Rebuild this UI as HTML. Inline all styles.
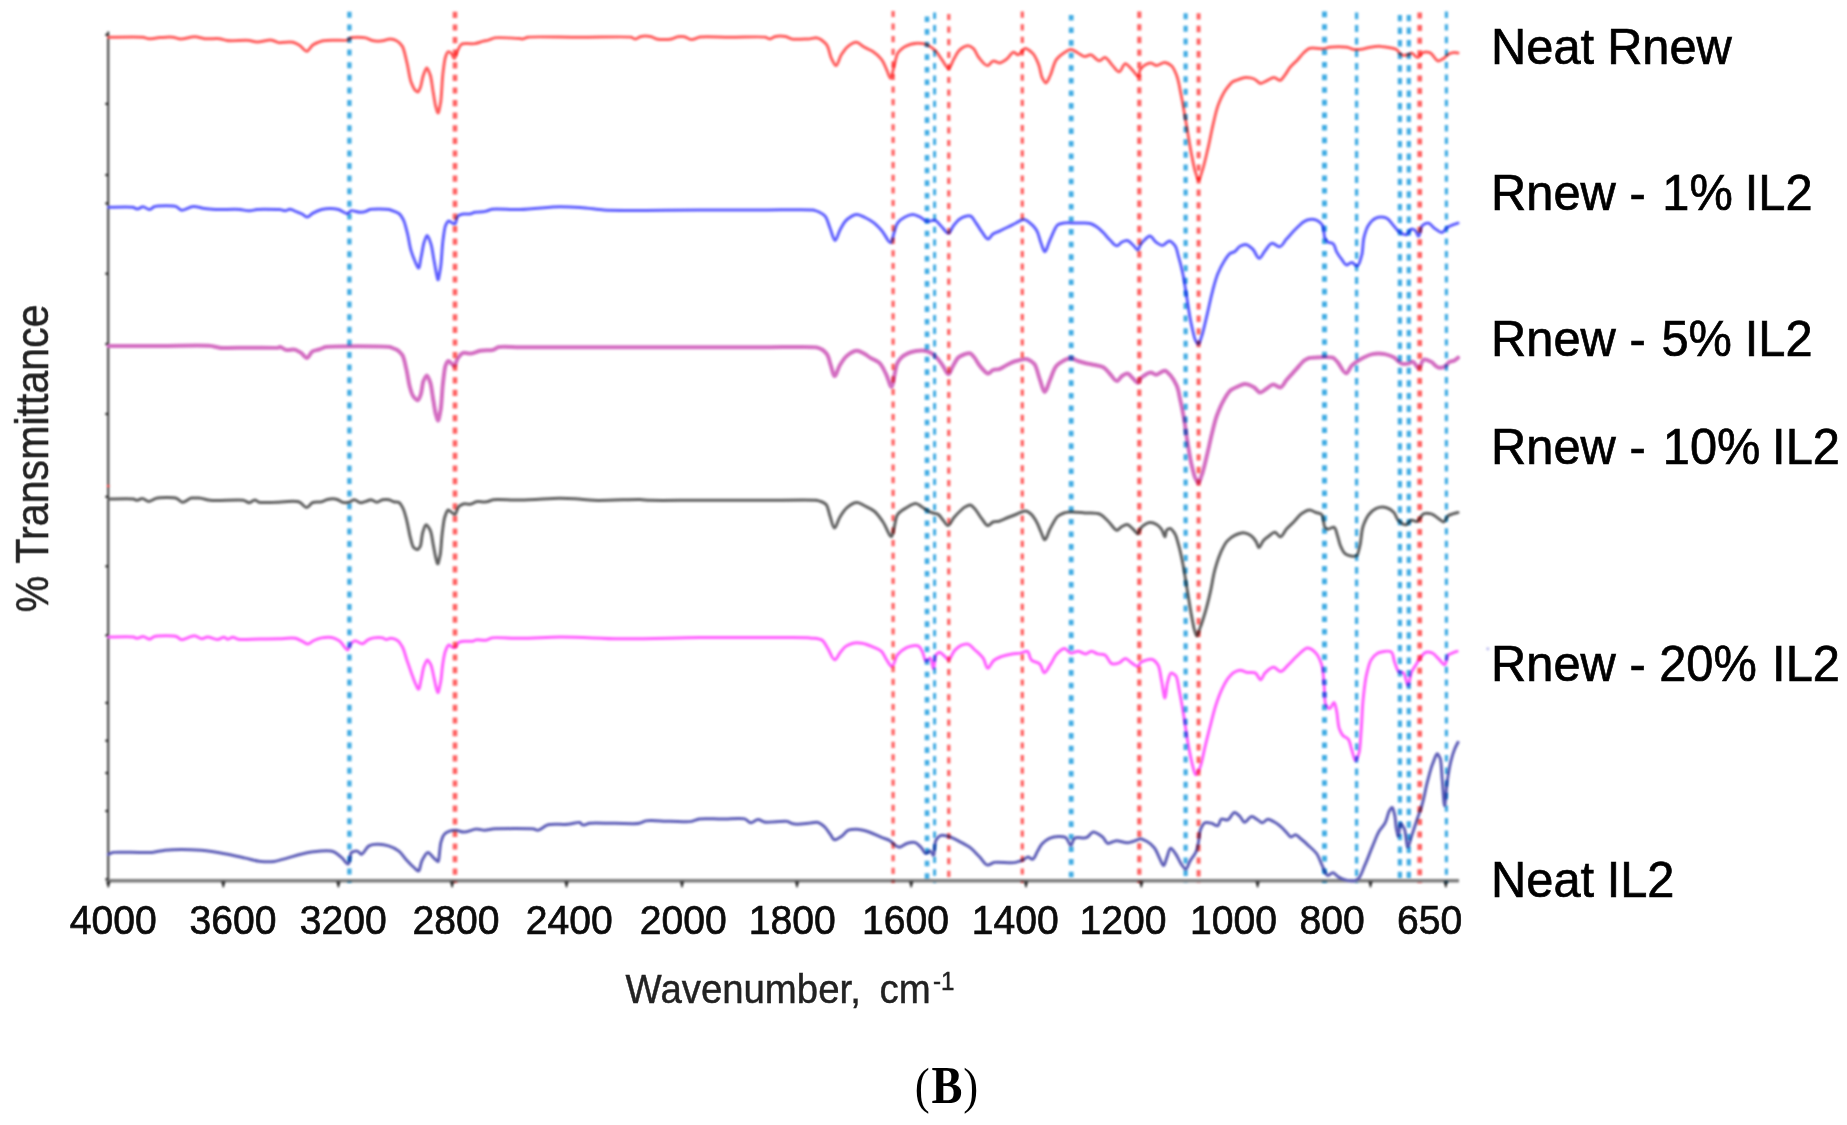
<!DOCTYPE html>
<html lang="en">
<head>
<meta charset="utf-8">
<title>FTIR spectra (B)</title>
<style>
html,body{margin:0;padding:0;background:#fff;}
body{width:1847px;height:1125px;overflow:hidden;position:relative;}
svg{position:absolute;left:0;top:0;display:block;}
text{font-family:"Liberation Sans",Arial,Helvetica,sans-serif;}
.tick{fill:#0c0c0c;stroke:#0c0c0c;stroke-width:0.7;}
.leg{fill:#000;stroke:#000;stroke-width:0.7;}
.axl{fill:#222;stroke:#222;stroke-width:0.45;}
.cap2{font-family:"Liberation Serif","Times New Roman",serif;fill:#000;}
.curve{fill:none;stroke-width:3.0;stroke-linejoin:round;stroke-linecap:round;}
.vl{fill:none;}

</style>
</head>
<body>
<svg width="1847" height="1125" viewBox="0 0 1847 1125">
<defs>
<filter id="soft" x="-2%" y="-2%" width="104%" height="104%" color-interpolation-filters="sRGB"><feGaussianBlur stdDeviation="1.25"/></filter>
<filter id="softv" x="-2%" y="-2%" width="104%" height="104%" color-interpolation-filters="sRGB"><feGaussianBlur stdDeviation="1.0"/></filter>
<filter id="soft3" x="-2%" y="-2%" width="104%" height="104%" color-interpolation-filters="sRGB"><feGaussianBlur stdDeviation="0.6"/></filter>
<filter id="soft2" x="-2%" y="-10%" width="104%" height="120%" color-interpolation-filters="sRGB"><feGaussianBlur stdDeviation="0.7"/></filter>
</defs>
<rect x="0" y="0" width="1847" height="1125" fill="#ffffff"/>
<g filter="url(#soft)">

<g class="axes" stroke="#3a3a3a" fill="none">
<line x1="108.2" y1="31.5" x2="108.2" y2="882" stroke-width="2.2" stroke="#444"/>
<line x1="107.1" y1="880.7" x2="1459" y2="880.7" stroke-width="3.6" stroke="#7c7c7c"/>
<path d="M106.1 881.4 L110.5 881.4 L108.8 887.6 L107.8 887.6 Z" fill="#2a2a2a" stroke="none"/>
<path d="M221.1 881.4 L225.5 881.4 L223.8 887.6 L222.8 887.6 Z" fill="#2a2a2a" stroke="none"/>
<path d="M336.2 881.4 L340.6 881.4 L338.9 887.6 L337.9 887.6 Z" fill="#2a2a2a" stroke="none"/>
<path d="M449.9 881.4 L454.3 881.4 L452.6 887.6 L451.6 887.6 Z" fill="#2a2a2a" stroke="none"/>
<path d="M564.3 881.4 L568.7 881.4 L567.0 887.6 L566.0 887.6 Z" fill="#2a2a2a" stroke="none"/>
<path d="M679.8 881.4 L684.2 881.4 L682.5 887.6 L681.5 887.6 Z" fill="#2a2a2a" stroke="none"/>
<path d="M794.8 881.4 L799.2 881.4 L797.5 887.6 L796.5 887.6 Z" fill="#2a2a2a" stroke="none"/>
<path d="M909.0 881.4 L913.4 881.4 L911.7 887.6 L910.7 887.6 Z" fill="#2a2a2a" stroke="none"/>
<path d="M1023.8 881.4 L1028.2 881.4 L1026.5 887.6 L1025.5 887.6 Z" fill="#2a2a2a" stroke="none"/>
<path d="M1139.1 881.4 L1143.5 881.4 L1141.8 887.6 L1140.8 887.6 Z" fill="#2a2a2a" stroke="none"/>
<path d="M1255.4 881.4 L1259.8 881.4 L1258.1 887.6 L1257.1 887.6 Z" fill="#2a2a2a" stroke="none"/>
<path d="M1368.3 881.4 L1372.7 881.4 L1371.0 887.6 L1370.0 887.6 Z" fill="#2a2a2a" stroke="none"/>
<path d="M1443.6 881.4 L1448.0 881.4 L1446.3 887.6 L1445.3 887.6 Z" fill="#2a2a2a" stroke="none"/>
<line x1="105.4" y1="34.8" x2="108" y2="34.8" stroke-width="2.2" stroke="#222"/>
<line x1="105.4" y1="103.9" x2="108" y2="103.9" stroke-width="2.2" stroke="#222"/>
<line x1="105.4" y1="175" x2="108" y2="175" stroke-width="2.2" stroke="#222"/>
<line x1="105.4" y1="203.4" x2="108" y2="203.4" stroke-width="2.2" stroke="#222"/>
<line x1="105.4" y1="273.7" x2="108" y2="273.7" stroke-width="2.2" stroke="#222"/>
<line x1="105.4" y1="344" x2="108" y2="344" stroke-width="2.2" stroke="#222"/>
<line x1="105.4" y1="414" x2="108" y2="414" stroke-width="2.2" stroke="#222"/>
<line x1="105.4" y1="496.8" x2="108" y2="496.8" stroke-width="2.2" stroke="#222"/>
<line x1="105.4" y1="566.3" x2="108" y2="566.3" stroke-width="2.2" stroke="#222"/>
<line x1="105.4" y1="635.4" x2="108" y2="635.4" stroke-width="2.2" stroke="#222"/>
<line x1="105.4" y1="702.9" x2="108" y2="702.9" stroke-width="2.2" stroke="#222"/>
<line x1="105.4" y1="740.7" x2="108" y2="740.7" stroke-width="2.2" stroke="#222"/>
<line x1="105.4" y1="773" x2="108" y2="773" stroke-width="2.2" stroke="#222"/>
<line x1="105.4" y1="811" x2="108" y2="811" stroke-width="2.2" stroke="#222"/>
<line x1="105.4" y1="879.3" x2="108" y2="879.3" stroke-width="2.2" stroke="#222"/>
</g>
<circle cx="108.2" cy="486" r="1.3" fill="#ff3030" stroke="none"/>
<circle cx="1487.8" cy="648.8" r="1.5" fill="#b8b8ee" stroke="none"/>
<g class="curves">
<path class="curve" stroke="#ff5c5c" d="M108.4 37.2 C108.4 37.2 140.2 36.6 143.0 37.2 C144.8 37.6 146.6 38.4 148.5 38.7 C151.3 39.1 156.2 37.8 160.0 37.6 C164.3 37.3 169.0 36.7 172.8 37.2 C175.3 37.5 177.8 38.7 180.3 39.0 C184.1 39.4 190.5 36.5 195.2 36.8 C198.3 37.0 201.4 38.3 204.6 38.7 C209.3 39.3 215.7 38.1 219.5 38.7 C222.0 39.1 224.5 40.1 227.0 40.5 C230.8 41.2 245.6 39.9 249.4 40.5 C251.9 40.9 254.4 41.8 256.9 42.0 C260.7 42.3 268.4 39.5 271.8 40.2 C274.1 40.7 277.8 42.5 278.5 42.6 C279.0 42.7 279.5 42.7 280.0 42.7 C280.8 42.7 289.6 41.4 293.0 42.3 C295.2 42.9 297.5 44.1 299.5 45.3 C302.2 46.9 304.7 51.6 307.0 51.2 C309.0 50.9 310.4 46.9 312.5 45.3 C315.4 43.1 319.3 41.9 322.9 40.8 C328.2 39.2 346.0 41.1 347.6 40.1 C348.7 39.5 349.7 38.5 350.8 37.9 C352.5 37.0 362.5 37.0 365.8 37.9 C368.0 38.5 370.1 40.0 372.3 40.5 C375.6 41.3 381.7 41.0 384.0 40.5 C385.5 40.2 387.0 39.4 388.5 39.2 C390.8 38.9 394.6 39.6 397.0 41.0 C399.0 42.1 400.7 44.1 402.1 46.0 C404.2 48.8 405.3 56.4 406.7 61.6 C408.5 68.5 409.5 78.4 411.2 82.4 C412.3 85.1 414.0 89.1 415.1 90.2 C415.9 90.9 417.0 92.1 417.7 92.1 C418.8 92.2 419.6 89.2 420.3 87.6 C421.4 85.3 422.2 77.9 423.6 74.6 C424.5 72.4 425.7 68.1 426.8 68.1 C427.9 68.1 429.2 72.4 430.1 74.6 C431.5 77.9 432.2 86.7 433.3 92.8 C434.2 97.6 435.0 104.2 435.9 107.1 C436.5 109.1 437.3 112.4 437.9 112.9 C438.8 113.6 439.8 106.5 440.5 103.2 C441.6 98.3 442.0 79.8 443.1 72.0 C443.8 66.8 444.6 58.8 445.7 56.4 C446.4 54.8 447.0 51.9 448.3 51.8 C449.2 51.7 450.6 52.7 451.5 53.5 C452.8 54.6 453.3 58.0 454.1 58.3 C455.3 58.7 456.2 53.5 457.4 51.2 C458.7 48.7 459.8 45.0 461.9 44.0 C463.3 43.4 465.4 43.7 467.1 43.6 C469.7 43.5 472.3 43.9 474.9 43.6 C477.6 43.2 480.1 42.1 482.7 41.4 C484.9 40.8 487.1 40.5 489.2 39.8 C491.0 39.3 492.6 38.4 494.4 37.9 C497.0 37.1 518.8 38.4 520.0 38.6 C520.8 38.7 521.5 39.0 522.3 39.0 C523.4 39.0 526.0 37.7 527.9 37.2 C530.7 36.4 562.6 37.2 580.0 37.2 C597.0 37.2 628.7 36.4 631.0 37.2 C632.5 37.7 634.1 39.0 635.6 39.0 C637.2 39.0 638.6 37.3 640.2 36.8 C642.6 36.0 648.4 36.1 651.2 36.8 C653.1 37.3 654.8 38.5 656.7 39.0 C659.5 39.8 668.2 39.8 671.5 39.0 C673.7 38.5 675.7 37.2 677.9 36.8 C680.0 36.5 682.2 36.5 684.3 36.8 C686.9 37.2 689.2 39.5 691.7 39.6 C694.1 39.7 696.6 37.8 699.1 37.2 C702.8 36.2 719.7 37.2 730.0 37.2 C741.8 37.2 762.9 36.4 765.3 37.2 C766.9 37.7 768.5 39.1 770.0 39.0 C771.6 38.9 773.0 37.3 774.6 36.8 C777.0 36.0 782.3 35.8 785.6 36.5 C787.8 37.0 789.8 38.4 792.0 39.0 C795.3 39.8 804.0 39.1 806.0 39.0 C807.3 38.9 808.7 38.9 810.0 38.8 C812.0 38.6 814.9 37.5 817.1 37.9 C820.4 38.4 823.8 41.5 826.1 44.1 C829.3 47.8 829.4 54.7 831.4 58.4 C832.7 60.9 834.5 65.2 835.9 65.6 C837.9 66.1 839.1 58.2 841.3 54.8 C843.1 52.0 845.0 48.9 847.5 46.8 C850.0 44.7 853.6 42.0 856.5 42.3 C858.9 42.5 861.2 45.4 863.6 46.8 C866.5 48.5 869.8 49.5 872.5 51.3 C875.8 53.5 879.1 56.2 881.5 59.3 C883.9 62.4 885.1 66.4 886.8 70.0 C888.0 72.7 889.3 77.7 890.4 78.1 C891.9 78.6 892.8 70.4 894.0 66.5 C895.5 61.7 895.9 55.4 898.4 52.2 C900.0 50.1 902.4 48.2 904.7 46.8 C908.2 44.7 913.3 43.3 917.2 43.2 C919.8 43.1 922.7 43.3 925.2 44.1 C928.8 45.2 932.3 47.8 935.1 50.4 C938.0 53.1 939.8 57.0 942.2 60.2 C944.3 62.9 946.6 68.3 948.5 68.2 C950.5 68.1 952.0 62.2 953.8 59.3 C955.8 56.0 957.2 51.8 960.1 49.5 C962.5 47.6 966.7 45.4 969.0 45.9 C970.5 46.3 972.2 47.5 973.5 48.6 C975.4 50.3 976.7 54.8 978.8 57.5 C981.3 60.6 985.2 66.2 987.8 65.6 C989.6 65.2 991.1 61.5 993.1 61.1 C995.0 60.7 997.4 63.0 999.4 62.9 C1001.9 62.8 1004.3 60.8 1006.5 59.3 C1009.2 57.4 1011.6 51.9 1013.7 52.2 C1015.1 52.4 1016.7 54.6 1018.1 54.8 C1020.2 55.1 1022.7 48.7 1025.3 48.6 C1027.5 48.5 1030.4 51.2 1032.4 53.0 C1035.3 55.8 1037.1 60.6 1038.7 64.7 C1040.4 69.0 1040.8 75.6 1042.3 78.1 C1043.3 79.8 1044.7 82.6 1045.8 82.9 C1047.4 83.3 1048.9 78.0 1050.3 75.4 C1052.3 71.5 1053.7 62.9 1056.6 59.3 C1058.5 56.9 1061.1 54.7 1063.7 53.0 C1065.9 51.6 1068.5 49.5 1070.9 49.5 C1073.3 49.5 1075.6 51.8 1078.0 53.0 C1080.4 54.2 1082.6 56.6 1085.1 56.6 C1086.9 56.6 1088.8 54.8 1090.5 54.8 C1093.1 54.8 1096.7 61.1 1099.4 60.7 C1101.2 60.5 1103.1 57.6 1104.8 57.5 C1107.3 57.4 1109.5 62.3 1111.9 64.7 C1114.3 67.1 1116.9 71.9 1119.1 71.8 C1121.4 71.7 1123.0 63.8 1125.4 63.8 C1127.3 63.8 1129.6 67.3 1131.6 69.1 C1134.1 71.4 1137.4 77.3 1138.7 76.3 C1139.6 75.6 1139.1 71.8 1140.0 70.0 C1141.1 67.9 1143.3 65.9 1145.4 64.7 C1147.0 63.8 1149.0 62.8 1150.7 62.9 C1152.6 63.0 1154.3 65.3 1156.1 65.6 C1158.9 66.0 1162.1 62.1 1165.0 62.5 C1167.1 62.8 1169.6 64.2 1171.3 65.6 C1173.9 67.7 1175.2 72.0 1176.6 75.4 C1178.7 80.5 1179.7 88.4 1181.1 95.0 C1182.8 103.3 1184.1 111.7 1185.6 120.0 C1187.7 131.9 1190.1 147.7 1191.8 155.8 C1192.9 161.2 1194.0 167.8 1195.4 171.9 C1196.3 174.6 1197.5 179.6 1198.6 179.9 C1199.9 180.2 1201.3 173.3 1202.5 170.0 C1204.2 165.0 1206.2 155.8 1207.9 148.6 C1209.9 140.3 1211.3 131.9 1213.3 123.6 C1214.9 117.0 1216.1 110.3 1218.6 104.0 C1220.6 99.1 1222.7 94.0 1225.8 89.7 C1227.9 86.8 1230.9 82.7 1232.9 81.6 C1234.3 80.8 1235.9 80.4 1237.4 79.9 C1239.7 79.1 1242.7 77.7 1245.4 77.5 C1248.3 77.3 1251.6 77.8 1254.3 79.0 C1256.6 80.0 1258.4 83.2 1260.6 83.4 C1262.6 83.5 1264.8 81.6 1266.9 80.7 C1269.3 79.7 1271.6 77.4 1274.0 77.5 C1276.1 77.6 1278.5 80.8 1280.3 80.4 C1282.0 80.0 1283.3 77.1 1284.7 75.4 C1286.7 72.9 1288.1 69.8 1290.1 67.3 C1292.2 64.7 1294.9 62.6 1297.2 60.2 C1299.4 57.9 1301.2 55.2 1303.5 53.0 C1305.2 51.4 1306.9 49.6 1308.8 48.6 C1311.7 47.1 1321.3 49.1 1324.0 48.6 C1325.8 48.3 1327.6 47.6 1329.4 47.2 C1332.1 46.7 1343.7 46.4 1347.3 47.2 C1349.7 47.7 1352.0 49.2 1354.4 49.5 C1357.3 49.9 1360.4 49.4 1363.3 48.9 C1365.7 48.5 1368.1 47.6 1370.5 47.2 C1374.0 46.6 1377.6 46.2 1381.2 46.4 C1384.2 46.5 1387.2 47.0 1390.1 47.7 C1392.2 48.2 1394.6 48.5 1396.4 49.5 C1398.5 50.7 1399.5 54.0 1401.7 54.8 C1403.5 55.5 1406.1 55.3 1408.0 54.8 C1409.3 54.4 1410.4 53.1 1411.6 53.0 C1413.3 52.8 1415.9 57.8 1417.8 57.5 C1419.4 57.2 1420.5 53.9 1422.3 53.0 C1424.3 52.0 1427.3 52.0 1429.4 52.5 C1432.6 53.2 1435.9 61.2 1438.4 61.0 C1440.1 60.8 1442.0 59.4 1443.7 58.4 C1445.7 57.2 1447.0 54.9 1449.1 53.9 C1450.7 53.1 1452.8 52.5 1454.5 52.5 C1455.7 52.5 1458.0 53.0 1458.0 53.0"/>
<path class="curve" stroke="#5c5cff" d="M108.4 207.3 C108.4 207.3 130.8 206.6 133.0 207.3 C134.5 207.8 135.9 208.9 137.3 209.0 C139.2 209.1 141.1 206.7 143.0 206.7 C145.2 206.7 147.4 209.8 149.5 209.5 C151.1 209.3 152.6 207.5 154.2 206.7 C156.6 205.6 174.2 205.3 176.6 206.7 C178.2 207.6 179.6 209.5 181.2 210.1 C183.6 211.0 189.3 206.6 193.4 206.4 C197.1 206.3 200.8 208.1 204.6 208.6 C208.3 209.1 212.1 209.3 215.8 209.5 C221.4 209.8 235.3 209.0 240.0 209.5 C243.1 209.8 246.3 210.9 249.4 210.8 C251.9 210.7 254.4 209.8 256.9 209.5 C260.7 209.0 277.8 209.5 278.5 209.5 C279.0 209.5 279.5 209.5 280.0 209.5 C280.7 209.5 283.5 210.9 285.2 210.8 C286.7 210.7 288.2 209.3 289.7 209.2 C291.7 209.1 293.6 210.6 295.6 211.4 C297.8 212.2 300.0 212.9 302.1 214.0 C303.8 214.9 305.4 217.0 307.0 217.0 C308.9 217.1 310.6 214.5 312.5 213.4 C315.4 211.8 318.5 210.3 321.6 209.5 C326.3 208.3 333.8 208.2 338.5 209.5 C341.6 210.4 345.9 214.3 347.6 213.6 C348.7 213.1 349.6 211.4 350.8 210.8 C352.6 209.9 358.0 212.5 360.6 212.3 C362.3 212.2 364.2 212.0 365.8 211.4 C367.2 210.9 368.4 210.0 369.7 209.5 C371.7 208.7 386.5 208.8 389.1 209.5 C390.9 210.0 392.6 210.7 394.3 211.4 C396.1 212.2 398.1 212.8 399.5 214.0 C401.2 215.5 402.3 217.8 403.4 219.9 C405.0 223.0 406.1 228.5 407.3 232.9 C408.9 238.9 409.5 245.8 411.2 251.1 C412.3 254.6 413.6 258.2 415.1 261.5 C416.1 263.7 417.5 267.7 418.4 268.0 C419.7 268.5 420.2 261.1 421.0 257.6 C422.2 252.4 423.0 245.3 424.2 242.0 C425.0 239.8 426.1 235.7 427.1 235.5 C428.3 235.2 429.7 240.6 430.7 243.3 C432.2 247.3 432.9 254.6 434.0 260.2 C434.9 265.0 436.0 271.9 436.6 274.5 C437.0 276.2 437.5 279.0 437.9 279.7 C438.5 280.7 439.8 271.9 440.5 268.0 C441.6 262.1 442.0 246.6 443.1 239.4 C443.8 234.6 444.5 227.3 445.7 225.1 C446.5 223.6 447.5 220.9 448.7 220.9 C449.5 220.9 450.5 222.0 451.5 222.5 C452.6 223.1 453.9 224.0 454.8 224.0 C456.2 224.0 456.0 217.6 458.0 216.0 C459.3 214.9 461.4 214.4 463.2 214.0 C465.3 213.6 467.6 214.4 469.7 214.0 C471.5 213.7 473.1 212.7 474.9 212.3 C477.5 211.7 482.0 212.2 485.3 211.4 C487.5 210.9 489.6 209.8 491.8 209.2 C495.1 208.3 510.6 209.7 520.0 209.5 C533.4 209.2 550.0 206.7 560.0 206.7 C566.7 206.7 573.3 207.0 580.0 207.5 C588.0 208.1 596.0 209.3 604.0 210.0 C616.0 211.0 670.0 210.0 700.0 210.0 C720.0 210.0 740.0 210.0 760.0 210.0 C777.8 210.0 810.4 209.1 813.3 210.0 C815.2 210.6 817.2 211.1 819.0 212.0 C821.1 213.0 823.4 214.4 825.0 216.0 C827.4 218.5 828.3 224.0 830.0 228.0 C831.7 232.1 833.4 240.7 835.2 240.4 C836.7 240.1 838.2 233.3 840.0 230.0 C842.0 226.3 843.9 222.1 847.0 219.5 C849.8 217.1 853.7 214.3 857.2 214.4 C859.8 214.5 862.5 216.3 865.0 217.5 C868.1 219.0 871.3 220.8 874.0 222.9 C877.0 225.2 879.5 228.2 882.0 231.0 C885.2 234.6 888.9 243.7 891.0 242.5 C892.4 241.7 892.9 236.1 894.0 233.0 C895.2 229.6 895.6 225.7 897.7 222.9 C899.5 220.5 902.3 218.4 905.0 217.0 C907.4 215.7 910.4 214.3 913.0 214.4 C915.3 214.5 917.8 215.9 920.0 217.0 C922.3 218.1 924.7 221.0 926.4 221.2 C927.5 221.4 928.8 221.1 930.0 221.0 C931.6 220.8 933.4 220.0 934.8 220.2 C937.0 220.6 938.9 224.1 941.0 226.0 C943.5 228.3 946.2 233.3 948.4 233.0 C950.5 232.7 951.9 227.5 954.0 225.0 C955.9 222.8 958.0 220.2 960.2 218.8 C961.7 217.8 963.3 217.0 965.0 216.5 C966.7 216.0 968.8 215.6 970.3 216.0 C972.6 216.6 974.2 220.6 976.0 223.0 C978.2 225.9 979.8 229.2 982.0 232.0 C983.9 234.5 986.1 239.3 988.2 239.0 C989.8 238.8 991.1 235.3 993.0 234.0 C994.8 232.8 997.0 232.2 999.0 231.3 C1002.0 229.9 1005.0 228.5 1008.0 227.0 C1010.7 225.7 1013.3 224.2 1016.0 223.0 C1018.7 221.7 1021.7 219.1 1024.3 219.5 C1026.3 219.8 1028.3 221.6 1030.0 223.0 C1032.4 224.8 1034.5 227.2 1036.2 229.6 C1038.7 233.3 1039.3 238.7 1041.0 243.0 C1042.1 245.9 1043.4 251.1 1044.6 251.6 C1046.3 252.2 1048.1 243.8 1050.0 240.0 C1052.5 234.8 1055.4 225.9 1058.0 224.6 C1059.7 223.7 1062.0 223.3 1064.0 223.0 C1066.3 222.7 1068.7 222.9 1071.0 222.9 C1074.0 222.9 1077.0 222.9 1080.0 223.0 C1083.4 223.1 1087.0 222.5 1090.2 223.5 C1092.6 224.2 1094.9 225.6 1097.0 227.0 C1099.5 228.7 1101.6 230.9 1103.7 233.0 C1105.9 235.2 1107.7 237.9 1110.0 240.0 C1112.2 242.1 1114.8 246.2 1117.2 245.8 C1118.8 245.5 1120.2 242.9 1122.0 242.0 C1123.6 241.2 1125.7 240.2 1127.3 240.4 C1129.4 240.7 1131.2 243.4 1133.0 245.0 C1134.8 246.6 1136.9 250.5 1138.1 249.9 C1139.0 249.5 1139.2 246.8 1140.0 245.4 C1141.2 243.4 1142.8 241.6 1144.5 240.0 C1146.1 238.5 1148.1 236.2 1149.8 236.1 C1152.0 236.0 1153.7 240.6 1156.1 242.2 C1158.0 243.5 1160.3 245.4 1162.3 245.4 C1164.8 245.4 1167.2 240.6 1169.5 240.9 C1171.4 241.2 1173.4 243.6 1174.8 245.4 C1176.9 248.0 1177.3 252.5 1178.4 256.1 C1180.0 261.5 1181.6 268.0 1182.9 274.0 C1184.4 281.1 1185.3 288.3 1186.5 295.4 C1188.0 304.3 1189.0 313.4 1190.9 322.2 C1192.2 328.2 1194.2 338.1 1195.4 340.1 C1196.2 341.4 1197.3 343.7 1198.1 344.0 C1199.3 344.5 1200.6 339.0 1201.6 336.5 C1203.1 332.7 1205.3 322.2 1207.0 315.1 C1208.9 307.4 1210.3 299.5 1212.4 291.8 C1214.0 285.8 1215.4 279.7 1217.7 274.0 C1219.5 269.7 1221.5 265.4 1224.0 261.5 C1225.8 258.7 1228.2 254.6 1230.2 253.4 C1231.5 252.6 1233.3 252.4 1234.7 251.6 C1236.7 250.4 1237.9 247.5 1240.0 246.3 C1241.6 245.4 1243.7 244.5 1245.4 244.5 C1248.0 244.6 1250.5 247.2 1252.6 249.0 C1255.4 251.5 1257.0 258.5 1259.3 258.3 C1261.2 258.1 1263.0 253.1 1265.1 250.7 C1267.3 248.1 1269.4 243.4 1272.2 243.2 C1274.4 243.0 1277.3 247.0 1279.4 246.8 C1282.2 246.6 1284.1 241.7 1286.5 239.1 C1289.5 235.8 1292.3 232.4 1295.4 229.3 C1298.3 226.5 1301.9 222.5 1304.4 221.3 C1306.0 220.5 1307.9 219.7 1309.7 219.5 C1312.0 219.2 1314.8 219.5 1316.9 220.4 C1318.9 221.3 1320.9 223.1 1322.2 224.8 C1324.2 227.4 1323.8 236.3 1324.9 238.2 C1325.7 239.5 1326.5 240.9 1327.6 241.8 C1329.0 242.9 1331.6 242.6 1333.0 243.6 C1335.1 245.2 1335.1 249.0 1336.5 251.6 C1338.0 254.4 1339.9 257.1 1341.9 259.7 C1343.3 261.5 1344.6 264.7 1346.4 265.0 C1347.9 265.2 1350.0 262.3 1351.7 262.4 C1353.6 262.5 1355.6 265.9 1357.1 265.9 C1359.3 265.9 1360.4 259.5 1361.5 256.1 C1363.2 251.1 1362.5 242.5 1364.2 236.5 C1365.3 232.5 1366.3 228.1 1368.7 224.8 C1370.5 222.2 1373.0 219.4 1375.8 218.2 C1378.9 216.9 1383.6 216.9 1386.6 218.2 C1389.5 219.5 1391.3 223.2 1393.7 225.7 C1395.8 228.0 1397.4 231.0 1400.0 232.5 C1401.8 233.6 1404.4 235.0 1406.2 234.7 C1408.4 234.3 1410.0 228.9 1411.6 228.9 C1412.7 228.9 1414.1 229.5 1415.1 230.2 C1416.6 231.2 1417.4 235.7 1418.4 236.1 C1419.9 236.7 1420.2 227.5 1422.3 225.7 C1423.7 224.5 1426.0 223.1 1427.7 223.1 C1430.2 223.0 1432.3 226.8 1434.8 228.4 C1437.1 229.9 1439.7 232.8 1441.9 232.5 C1443.9 232.2 1445.3 228.9 1447.3 227.5 C1449.0 226.4 1450.8 225.6 1452.7 224.8 C1454.4 224.1 1458.0 223.1 1458.0 223.1"/>
<path class="curve" stroke="#d36cc1" style="stroke-width:4.0" d="M108.4 345.9 C108.4 345.9 142.8 345.9 160.0 345.9 C176.7 345.9 205.5 345.1 210.2 345.9 C213.3 346.4 216.4 347.2 219.5 347.7 C224.2 348.4 239.8 347.7 250.0 347.7 C259.5 347.7 277.7 348.1 278.5 347.7 C279.0 347.4 279.5 347.1 280.0 346.9 C280.8 346.7 283.8 349.2 285.8 349.8 C288.8 350.7 292.9 348.9 295.6 349.8 C297.4 350.4 299.2 351.6 300.8 352.7 C303.0 354.2 305.1 358.0 307.0 357.9 C309.0 357.8 310.2 352.8 312.5 351.4 C314.4 350.3 316.9 350.2 319.0 349.5 C321.0 348.8 322.9 347.9 324.8 347.2 C327.7 346.1 387.1 346.0 390.4 347.2 C392.6 348.0 395.0 348.6 396.9 349.8 C398.9 351.1 400.7 352.8 402.1 354.7 C404.2 357.5 404.9 363.3 406.0 367.7 C407.7 374.1 408.5 382.6 409.9 387.2 C410.8 390.3 411.4 394.0 413.2 396.3 C414.4 397.8 416.5 400.4 417.7 400.2 C418.9 400.0 419.8 396.8 420.6 395.0 C421.8 392.3 422.3 383.4 423.6 380.7 C424.5 378.9 425.8 375.6 426.8 375.5 C428.0 375.4 429.2 379.8 430.1 382.0 C431.5 385.3 432.2 394.1 433.3 400.2 C434.2 405.0 435.0 411.6 435.9 414.5 C436.5 416.5 437.3 419.8 437.9 420.3 C438.8 421.0 439.8 413.9 440.5 410.6 C441.6 405.7 442.0 390.5 443.1 382.0 C443.8 376.4 444.6 367.3 445.7 365.1 C446.4 363.6 447.2 361.0 448.3 360.9 C449.2 360.8 450.4 362.6 451.5 363.5 C452.4 364.2 453.3 365.5 454.1 365.7 C455.2 366.1 456.3 360.2 458.0 357.9 C459.3 356.1 460.8 353.9 462.6 353.1 C464.9 352.0 468.3 353.9 471.0 353.6 C474.1 353.3 477.0 351.4 480.1 350.8 C484.3 349.9 490.4 350.8 493.1 349.8 C494.9 349.2 496.5 347.9 498.3 347.2 C501.0 346.2 512.8 347.2 520.0 347.2 C530.8 347.2 546.7 347.3 560.0 347.3 C580.0 347.3 600.0 347.3 620.0 347.3 C646.7 347.3 673.3 347.3 700.0 347.3 C720.0 347.3 740.0 347.3 760.0 347.3 C778.9 347.3 813.9 346.3 816.6 347.3 C818.4 348.0 820.4 348.5 822.0 349.5 C823.8 350.6 825.5 352.3 826.8 354.0 C828.8 356.5 829.6 362.0 831.0 366.0 C832.2 369.3 833.1 375.7 834.5 376.0 C836.1 376.4 837.8 368.5 840.0 365.0 C842.0 361.7 844.1 358.1 847.0 355.7 C849.8 353.4 853.8 350.5 857.2 350.7 C859.4 350.8 861.8 352.4 864.0 353.5 C866.4 354.8 868.4 356.6 870.7 358.0 C873.4 359.6 876.7 360.5 879.0 362.5 C882.3 365.3 883.9 370.0 886.0 374.0 C888.2 378.2 890.1 387.4 891.6 387.0 C892.9 386.6 893.5 379.0 894.5 375.0 C895.5 370.8 896.0 365.5 897.7 362.5 C898.8 360.5 900.3 358.5 902.0 357.0 C903.7 355.5 905.8 354.4 907.8 353.4 C910.4 352.2 913.2 351.5 916.0 351.0 C918.8 350.5 921.9 350.2 924.7 350.7 C926.9 351.1 929.1 351.9 931.0 353.0 C933.0 354.1 934.8 355.8 936.5 357.4 C939.0 359.8 940.9 363.1 943.0 366.0 C944.9 368.7 946.7 374.4 948.4 374.3 C950.0 374.2 951.4 368.7 953.0 366.0 C954.7 363.1 956.2 359.3 958.5 357.4 C960.1 356.1 962.1 355.2 964.0 354.5 C966.0 353.8 968.5 352.7 970.3 353.4 C971.7 353.9 972.9 355.7 974.0 357.0 C975.7 358.9 977.0 361.9 978.7 364.2 C980.0 366.0 981.4 367.9 983.0 369.5 C984.6 371.0 986.4 373.6 988.2 373.6 C989.8 373.6 991.2 370.7 993.0 370.0 C994.8 369.3 997.1 369.8 999.0 369.2 C1001.5 368.5 1003.6 366.7 1006.0 365.5 C1008.7 364.1 1011.4 362.5 1014.2 361.5 C1016.1 360.9 1018.0 360.4 1020.0 360.0 C1022.0 359.6 1024.1 358.7 1026.0 359.0 C1027.4 359.2 1028.8 359.8 1030.0 360.5 C1031.7 361.4 1033.2 362.8 1034.5 364.2 C1036.4 366.3 1038.1 374.8 1040.0 380.0 C1041.5 384.0 1043.0 391.8 1044.6 391.9 C1046.3 392.0 1048.2 384.0 1050.0 380.0 C1052.1 375.3 1053.7 368.8 1056.4 365.9 C1058.2 364.0 1060.6 362.3 1063.0 361.0 C1065.5 359.6 1068.4 357.9 1071.0 358.0 C1073.4 358.1 1075.6 360.1 1078.0 361.0 C1080.9 362.0 1083.8 362.8 1086.8 363.5 C1089.5 364.1 1092.3 364.4 1095.0 365.0 C1097.9 365.7 1101.2 366.0 1103.7 367.5 C1106.2 369.0 1107.9 371.9 1110.0 374.0 C1112.4 376.4 1114.8 381.5 1117.2 381.0 C1118.8 380.7 1120.1 377.3 1122.0 376.0 C1123.6 374.9 1125.7 373.5 1127.3 373.6 C1129.4 373.7 1131.1 376.9 1133.0 378.5 C1134.7 379.9 1136.9 383.3 1138.1 382.7 C1138.9 382.3 1139.2 380.2 1140.0 379.1 C1141.2 377.5 1143.4 375.9 1145.4 374.7 C1147.0 373.8 1148.9 372.5 1150.7 372.5 C1152.5 372.5 1154.3 374.5 1156.1 374.7 C1158.8 374.9 1162.3 370.1 1165.0 370.7 C1167.3 371.2 1169.5 374.3 1171.3 376.5 C1173.5 379.1 1175.2 382.3 1176.6 385.4 C1178.6 389.8 1179.1 394.9 1180.2 399.7 C1181.6 405.6 1182.7 411.5 1183.8 417.5 C1185.2 425.2 1186.0 433.1 1187.3 440.8 C1188.7 449.2 1190.2 459.5 1191.8 465.8 C1192.9 470.0 1194.2 476.0 1195.4 478.3 C1196.2 479.9 1197.3 482.5 1198.1 482.8 C1199.4 483.2 1200.6 478.0 1201.6 475.6 C1203.1 471.9 1205.3 462.0 1207.0 455.1 C1208.9 447.4 1210.4 439.5 1212.4 431.8 C1213.8 426.4 1214.9 421.0 1216.8 415.8 C1218.8 410.3 1221.0 404.7 1224.0 399.7 C1226.1 396.3 1228.0 392.3 1231.1 389.9 C1233.2 388.3 1235.8 387.4 1238.3 386.3 C1240.3 385.4 1242.4 384.2 1244.5 384.0 C1247.6 383.7 1251.4 385.7 1254.3 387.5 C1256.4 388.8 1258.0 392.4 1260.1 392.5 C1262.0 392.6 1264.0 390.2 1266.0 389.0 C1268.4 387.5 1270.6 384.7 1273.1 384.5 C1275.4 384.3 1278.2 387.8 1280.3 387.5 C1282.9 387.1 1284.4 382.5 1286.5 380.0 C1289.4 376.7 1292.4 373.5 1295.4 370.2 C1298.4 366.9 1302.3 361.7 1304.4 360.4 C1305.8 359.5 1307.3 358.8 1308.8 358.2 C1311.0 357.3 1331.5 356.3 1333.9 358.2 C1335.5 359.5 1336.9 361.4 1338.3 363.1 C1340.5 365.6 1343.8 373.9 1346.4 373.2 C1348.2 372.7 1349.6 367.9 1351.7 365.7 C1353.3 364.0 1355.2 362.6 1357.1 361.3 C1359.1 359.9 1361.2 358.8 1363.3 357.7 C1366.2 356.3 1369.2 354.8 1372.3 354.1 C1376.3 353.2 1380.8 353.3 1384.8 354.1 C1387.8 354.7 1391.0 355.7 1393.7 357.2 C1396.7 358.8 1398.8 362.9 1401.7 363.6 C1403.6 364.1 1406.0 364.0 1408.0 363.6 C1409.6 363.3 1411.1 361.8 1412.5 361.8 C1414.6 361.8 1416.9 367.9 1418.7 367.9 C1420.8 367.8 1421.5 360.1 1424.1 359.5 C1426.0 359.0 1429.0 360.7 1431.2 361.8 C1433.9 363.2 1435.6 367.0 1438.4 367.5 C1440.3 367.8 1442.8 367.5 1444.6 366.6 C1446.4 365.7 1447.3 363.2 1449.1 362.2 C1450.7 361.3 1452.9 361.3 1454.5 360.4 C1455.8 359.7 1458.0 357.7 1458.0 357.7"/>
<path class="curve" stroke="#5f5f5f" d="M108.4 499.0 C108.4 499.0 131.7 498.4 133.6 499.0 C134.8 499.4 136.1 500.3 137.3 500.3 C138.9 500.3 140.4 498.5 142.0 498.4 C144.3 498.2 146.6 501.4 148.9 501.4 C151.3 501.4 153.6 499.1 156.0 498.4 C159.6 497.3 173.7 497.0 176.6 498.4 C178.6 499.4 180.3 501.8 182.2 502.2 C185.1 502.8 188.2 498.7 191.5 498.1 C193.9 497.7 196.5 497.9 199.0 498.1 C202.7 498.4 206.4 499.8 210.2 500.3 C215.8 501.1 241.0 499.3 243.8 500.3 C245.7 501.0 247.6 502.7 249.4 502.7 C251.3 502.7 253.2 499.6 255.0 499.9 C256.3 500.1 257.4 501.6 258.7 502.2 C260.6 503.1 277.7 502.2 278.5 502.2 C279.0 502.2 279.5 502.1 280.0 502.1 C280.8 502.1 295.7 500.2 299.5 502.1 C302.1 503.3 304.3 507.7 306.6 507.5 C308.6 507.3 310.3 503.7 312.5 502.7 C315.2 501.5 318.7 502.6 321.6 501.8 C323.6 501.3 325.4 500.0 327.4 499.5 C330.4 498.8 334.5 498.6 337.2 499.5 C339.0 500.1 340.6 501.8 342.4 502.3 C344.4 502.8 346.8 502.8 348.9 502.3 C350.7 501.9 352.4 499.9 354.1 499.8 C356.3 499.7 358.4 502.6 360.6 502.7 C362.3 502.8 364.1 501.9 365.8 501.4 C367.5 500.9 369.3 499.8 371.0 499.8 C373.0 499.9 374.9 502.3 376.8 502.3 C378.7 502.3 380.6 500.2 382.6 499.8 C384.7 499.4 387.0 499.3 389.1 499.8 C390.7 500.2 392.1 501.4 393.7 501.8 C395.4 502.2 397.5 501.6 398.9 502.3 C400.7 503.2 401.7 505.9 402.8 507.9 C404.4 510.9 405.6 516.1 406.7 520.3 C408.3 526.3 409.2 533.9 410.6 538.5 C411.5 541.6 412.2 546.3 413.8 547.6 C414.8 548.5 416.6 549.8 417.7 549.5 C418.7 549.2 419.6 547.4 420.3 546.3 C421.4 544.6 421.6 535.7 422.9 532.0 C423.8 529.5 424.8 524.7 426.2 524.8 C427.3 524.9 429.1 528.2 430.1 530.0 C431.7 532.8 432.3 540.0 433.3 545.0 C434.2 549.3 435.1 555.1 435.9 558.0 C436.4 559.9 437.0 563.4 437.6 563.8 C438.4 564.3 439.4 558.2 440.1 555.4 C441.1 551.2 441.3 539.8 442.4 532.0 C443.1 526.8 443.7 519.7 445.0 516.4 C445.9 514.2 446.9 510.0 448.3 510.1 C449.2 510.2 450.4 511.5 451.5 512.2 C452.6 512.9 453.9 514.3 454.8 514.4 C456.2 514.6 456.9 508.3 458.7 506.6 C459.9 505.5 461.6 504.5 463.2 504.0 C465.6 503.2 468.5 504.6 471.0 504.0 C472.8 503.6 474.4 502.3 476.2 501.8 C478.9 501.1 483.3 502.4 486.6 501.8 C488.8 501.4 490.9 500.3 493.1 499.8 C496.4 499.0 511.0 500.2 520.0 500.1 C533.3 499.9 552.5 498.1 560.0 498.2 C565.0 498.3 570.0 498.5 575.0 498.8 C581.3 499.2 587.5 500.0 593.8 500.3 C603.2 500.8 635.0 499.2 640.0 499.5 C643.3 499.7 646.7 500.1 650.0 500.3 C655.0 500.6 683.3 500.3 700.0 500.3 C720.0 500.3 740.0 500.3 760.0 500.3 C778.9 500.3 814.4 499.7 816.6 500.3 C818.1 500.7 819.6 500.9 821.0 501.5 C822.8 502.2 824.7 503.1 826.0 504.3 C828.0 506.1 828.6 512.1 830.0 516.0 C831.4 520.0 832.8 528.0 834.5 528.0 C836.1 528.0 837.8 520.5 840.0 517.0 C842.0 513.7 844.1 510.1 847.0 507.7 C849.8 505.3 853.8 502.5 857.2 502.6 C859.8 502.7 862.5 504.8 865.0 506.0 C868.1 507.5 871.3 508.9 874.0 511.0 C877.7 513.9 880.3 518.1 883.0 522.0 C886.2 526.5 889.6 537.7 891.6 536.4 C892.9 535.5 893.5 529.5 894.5 526.0 C895.6 522.1 895.5 517.5 897.7 514.4 C899.6 511.7 903.0 509.8 906.0 508.0 C909.2 506.1 913.4 503.0 916.3 503.6 C918.3 504.0 920.1 505.8 922.0 507.0 C924.0 508.3 925.9 509.9 928.0 511.0 C929.6 511.8 931.3 512.4 933.0 513.0 C934.7 513.6 936.7 513.6 938.2 514.4 C940.2 515.6 941.4 518.1 943.0 520.0 C944.6 521.9 946.2 525.3 947.7 525.6 C949.9 526.0 951.8 520.1 954.0 517.5 C956.0 515.2 958.0 513.0 960.2 511.0 C961.7 509.6 963.2 508.0 965.0 507.0 C966.6 506.1 968.7 504.8 970.3 505.0 C972.1 505.3 973.6 507.5 975.0 509.0 C977.2 511.2 979.4 515.9 982.0 519.0 C983.9 521.3 985.9 525.8 988.2 525.6 C989.7 525.5 991.2 522.7 993.0 522.0 C994.8 521.3 997.1 521.7 999.0 521.2 C1001.9 520.5 1005.0 518.7 1008.0 517.5 C1011.0 516.3 1014.0 515.1 1017.0 514.0 C1020.0 512.9 1023.4 510.4 1026.0 511.0 C1027.7 511.4 1029.5 512.8 1031.0 514.0 C1033.2 515.8 1034.7 518.7 1036.2 521.2 C1038.2 524.6 1039.4 528.4 1041.0 532.0 C1042.2 534.6 1043.4 539.3 1044.6 539.8 C1046.3 540.4 1048.1 532.5 1050.0 529.0 C1052.4 524.6 1055.4 518.1 1058.0 516.1 C1059.7 514.8 1061.9 513.7 1064.0 513.0 C1066.2 512.3 1068.7 512.2 1071.0 512.0 C1074.5 511.8 1080.3 512.6 1085.0 513.0 C1090.1 513.4 1096.0 512.2 1100.3 514.4 C1103.2 515.8 1105.5 518.7 1108.0 521.0 C1111.2 524.0 1114.9 530.9 1117.2 530.3 C1118.7 529.9 1120.2 527.5 1122.0 526.5 C1123.6 525.6 1125.7 524.5 1127.3 524.6 C1129.4 524.8 1131.2 527.5 1133.0 529.0 C1134.8 530.5 1136.9 534.3 1138.1 533.7 C1139.0 533.3 1139.1 530.5 1140.0 529.1 C1141.1 527.4 1142.8 525.8 1144.5 524.7 C1146.1 523.7 1148.0 522.7 1149.8 522.5 C1152.2 522.3 1154.9 523.4 1157.0 524.7 C1158.7 525.8 1160.2 527.5 1161.4 529.1 C1163.1 531.3 1164.1 537.1 1165.0 536.8 C1165.8 536.5 1165.6 531.0 1166.8 530.0 C1167.6 529.3 1169.0 528.6 1170.0 528.6 C1171.5 528.6 1173.5 531.7 1174.8 533.6 C1176.7 536.4 1177.3 540.7 1178.4 544.3 C1180.0 549.7 1181.6 557.4 1182.9 564.0 C1184.4 571.7 1185.5 579.5 1186.8 587.2 C1188.2 595.5 1189.4 603.9 1190.9 612.2 C1192.0 618.2 1193.5 627.2 1194.5 630.1 C1195.2 632.0 1196.0 635.5 1196.8 635.8 C1197.8 636.2 1198.9 630.8 1199.9 628.3 C1201.4 624.5 1203.6 617.6 1205.2 612.2 C1207.3 605.1 1209.0 598.0 1210.6 590.8 C1212.2 583.7 1213.0 576.3 1215.0 569.3 C1216.5 563.9 1218.1 558.4 1220.4 553.3 C1222.4 548.9 1224.4 543.8 1227.5 540.7 C1229.5 538.6 1232.1 536.7 1234.7 535.4 C1237.4 534.0 1240.7 532.5 1243.6 532.7 C1246.0 532.9 1248.8 534.0 1250.8 535.4 C1253.0 536.9 1254.7 539.3 1256.1 541.6 C1257.2 543.4 1257.8 547.2 1258.8 547.5 C1260.1 547.9 1261.5 542.7 1263.3 540.7 C1264.8 539.0 1266.8 537.7 1268.6 536.3 C1270.6 534.8 1272.9 532.0 1274.9 532.2 C1276.8 532.4 1278.6 536.7 1280.3 536.8 C1282.6 537.0 1284.3 531.5 1286.5 529.1 C1288.8 526.6 1291.3 524.4 1293.7 522.0 C1296.4 519.2 1298.5 515.7 1301.7 513.6 C1304.1 512.0 1307.0 509.9 1309.7 510.0 C1311.8 510.1 1313.9 511.7 1316.0 512.5 C1317.8 513.1 1320.0 513.3 1321.4 514.3 C1323.5 515.7 1323.7 526.3 1324.9 527.3 C1325.7 528.0 1326.7 528.8 1327.6 529.1 C1329.0 529.6 1332.3 526.8 1333.9 527.3 C1336.0 528.0 1336.4 532.7 1337.4 535.4 C1338.8 539.2 1339.2 543.4 1341.0 547.0 C1342.2 549.5 1343.3 552.6 1345.5 554.1 C1347.0 555.1 1349.0 555.6 1350.8 555.9 C1352.6 556.2 1354.8 556.5 1356.2 555.9 C1358.3 555.0 1358.8 549.4 1359.8 546.1 C1361.3 541.1 1361.2 531.2 1363.3 525.6 C1364.7 521.9 1366.2 517.9 1368.7 514.8 C1370.6 512.4 1373.1 509.8 1375.8 508.6 C1378.9 507.2 1383.3 506.7 1386.6 507.7 C1389.2 508.4 1391.8 510.2 1393.7 512.2 C1395.8 514.3 1396.1 518.1 1398.2 520.2 C1400.3 522.3 1403.7 525.2 1406.2 524.7 C1408.1 524.3 1409.5 520.6 1411.6 520.2 C1413.2 519.9 1415.3 521.6 1416.9 521.4 C1419.3 521.1 1421.0 514.6 1424.1 513.6 C1426.2 513.0 1429.0 513.3 1431.2 513.9 C1433.8 514.6 1436.0 516.8 1438.4 518.4 C1440.2 519.6 1442.2 522.1 1443.7 522.0 C1445.5 521.8 1446.3 517.0 1448.2 515.7 C1449.5 514.8 1451.2 514.4 1452.7 513.9 C1454.4 513.3 1458.0 512.5 1458.0 512.5"/>
<path class="curve" stroke="#ff5cff" d="M108.4 637.0 C108.4 637.0 131.7 636.4 133.6 637.0 C134.8 637.4 136.1 638.2 137.3 638.3 C139.2 638.4 141.1 636.4 143.0 636.4 C145.2 636.4 147.4 639.4 149.5 639.2 C151.1 639.0 152.6 637.3 154.2 636.6 C156.6 635.6 174.2 635.4 176.6 636.6 C178.2 637.4 179.6 639.0 181.2 639.6 C183.6 640.5 191.8 635.2 195.2 635.9 C197.4 636.3 199.6 638.8 201.8 638.8 C203.6 638.8 205.5 637.2 207.4 637.0 C210.2 636.7 214.3 639.9 217.6 639.6 C219.8 639.4 222.3 637.0 224.2 637.3 C225.5 637.5 226.6 639.1 227.9 639.2 C229.4 639.3 231.0 637.4 232.6 637.3 C234.4 637.2 236.3 638.7 238.2 639.2 C241.0 639.9 252.7 639.1 260.0 639.0 C266.2 638.9 277.8 638.8 278.5 638.8 C279.0 638.8 279.5 638.8 280.0 638.8 C280.7 638.8 292.3 637.3 295.6 638.3 C297.8 638.9 300.0 640.2 302.1 641.2 C303.9 642.1 305.7 643.9 307.5 644.0 C309.6 644.1 311.6 641.5 313.8 640.5 C316.3 639.4 318.9 638.4 321.6 637.9 C325.6 637.2 331.9 637.3 334.6 638.3 C336.4 639.0 338.3 640.0 339.8 641.2 C341.9 642.9 343.8 646.5 345.0 647.7 C345.8 648.5 346.8 649.8 347.6 650.0 C348.7 650.3 349.3 645.5 350.8 643.8 C351.9 642.6 353.3 641.3 354.7 640.9 C356.8 640.3 360.1 644.2 362.5 643.8 C364.6 643.4 366.2 640.6 368.4 639.6 C370.0 638.8 371.8 638.3 373.6 637.9 C376.3 637.4 380.6 637.3 382.6 637.9 C383.9 638.3 385.2 639.5 386.5 639.6 C387.8 639.6 389.1 638.4 390.4 638.3 C392.4 638.1 395.6 639.1 397.6 640.5 C399.5 641.8 400.8 644.3 402.1 646.4 C404.0 649.5 405.2 655.1 406.7 659.4 C408.2 663.7 409.6 668.1 411.2 672.4 C412.5 675.9 413.6 679.5 415.1 682.8 C416.1 685.0 417.5 689.1 418.4 689.3 C419.6 689.6 420.2 683.3 421.0 680.2 C422.2 675.6 422.8 669.0 424.2 665.9 C425.1 663.9 426.3 659.9 427.5 660.0 C428.5 660.1 429.8 663.0 430.7 664.6 C432.0 667.0 433.0 673.3 434.0 677.6 C434.9 681.5 436.0 687.7 436.6 689.3 C437.0 690.4 437.5 692.0 437.9 692.5 C438.5 693.3 439.8 686.1 440.5 682.8 C441.6 677.9 442.0 667.9 443.1 662.0 C443.8 658.1 444.4 653.0 445.7 650.3 C446.6 648.5 447.5 645.1 448.9 645.1 C449.8 645.1 451.0 646.5 452.2 647.0 C453.0 647.3 454.0 647.7 454.8 647.7 C456.0 647.6 457.0 643.6 458.7 642.5 C460.3 641.5 462.5 641.4 464.5 641.2 C467.1 640.9 470.3 641.6 472.3 641.2 C473.6 640.9 474.9 640.2 476.2 639.9 C478.2 639.4 483.9 640.8 486.6 640.1 C488.4 639.6 490.0 638.5 491.8 637.9 C494.4 637.0 510.6 638.3 520.0 638.3 C533.3 638.2 546.7 637.1 560.0 637.0 C580.0 636.9 600.0 638.6 620.0 638.8 C646.7 639.1 673.3 637.7 700.0 637.5 C720.0 637.4 740.0 637.5 760.0 637.6 C776.7 637.7 803.7 636.9 810.0 637.9 C814.2 638.6 819.4 638.1 822.5 640.5 C824.9 642.3 826.1 645.9 827.9 648.6 C830.3 652.3 832.5 660.3 835.0 659.7 C836.7 659.3 838.4 654.6 840.4 652.2 C842.1 650.2 843.6 647.9 845.7 646.4 C847.8 644.9 850.4 643.8 852.9 643.2 C855.7 642.6 858.9 642.8 861.8 643.2 C865.5 643.7 869.0 645.3 872.5 646.8 C875.6 648.1 879.1 649.1 881.5 651.3 C883.9 653.5 884.8 657.4 886.8 660.2 C888.3 662.4 890.3 666.1 891.8 666.5 C894.0 667.1 894.8 658.1 897.5 654.8 C899.9 651.9 904.0 648.9 906.5 647.7 C908.2 646.9 910.0 646.2 911.8 645.9 C914.1 645.5 917.2 645.3 919.0 646.4 C920.7 647.5 921.6 650.2 922.6 652.2 C924.1 655.0 924.5 661.3 926.1 661.1 C927.2 661.0 929.0 658.1 930.1 657.9 C931.7 657.6 932.4 667.8 933.3 668.2 C934.5 668.7 934.6 656.3 936.0 654.8 C937.0 653.8 938.3 652.3 939.5 652.2 C941.0 652.1 942.5 654.5 944.0 655.7 C945.5 657.0 947.1 659.4 948.5 659.7 C950.5 660.1 952.1 653.0 954.7 650.4 C956.5 648.5 958.6 646.4 961.0 645.4 C963.1 644.5 966.0 643.6 968.1 644.1 C970.5 644.7 972.4 647.6 974.4 649.5 C977.5 652.3 981.0 655.0 983.3 658.4 C985.3 661.3 985.9 668.1 987.8 668.2 C989.5 668.3 991.4 662.2 994.0 660.2 C996.1 658.6 998.7 657.6 1001.2 656.6 C1004.6 655.3 1008.3 654.5 1011.9 653.9 C1014.8 653.4 1017.9 653.7 1020.8 653.1 C1022.9 652.7 1025.5 650.9 1027.1 651.3 C1029.6 651.9 1029.2 658.1 1031.5 660.2 C1033.5 662.1 1037.5 661.9 1039.6 663.8 C1042.0 665.9 1042.6 672.6 1044.4 672.7 C1046.2 672.8 1048.4 667.4 1050.3 664.7 C1052.9 661.0 1054.5 655.9 1057.5 653.1 C1059.5 651.3 1062.3 648.5 1064.6 648.6 C1066.7 648.7 1068.6 652.7 1070.9 653.1 C1073.1 653.5 1075.7 651.3 1078.0 651.3 C1080.7 651.3 1083.4 654.2 1086.0 653.9 C1087.8 653.7 1089.6 651.4 1091.4 651.3 C1093.5 651.2 1095.5 653.3 1097.7 653.9 C1100.0 654.5 1102.8 653.9 1104.8 654.8 C1107.8 656.1 1109.0 663.0 1112.0 663.8 C1114.0 664.3 1116.9 663.7 1119.1 662.9 C1121.4 662.0 1123.3 658.4 1125.4 658.4 C1127.5 658.4 1129.4 661.6 1131.6 662.9 C1133.9 664.3 1137.7 667.4 1138.7 666.5 C1139.3 665.9 1139.3 664.0 1140.0 663.1 C1141.0 661.7 1143.5 661.0 1145.4 660.4 C1147.6 659.7 1150.5 658.8 1152.5 659.5 C1154.7 660.2 1156.5 662.8 1157.9 664.8 C1160.0 667.8 1160.3 674.9 1161.4 680.0 C1162.7 685.9 1163.9 698.3 1165.0 697.9 C1166.0 697.6 1166.3 686.4 1167.7 681.8 C1168.7 678.8 1169.5 672.9 1171.3 672.9 C1172.5 672.9 1174.5 674.5 1175.7 675.6 C1177.5 677.2 1178.2 685.6 1179.3 690.7 C1180.9 698.3 1182.4 707.4 1183.8 715.8 C1185.4 725.3 1186.4 734.9 1188.2 744.3 C1189.5 751.5 1191.4 761.3 1192.7 765.8 C1193.6 768.8 1194.4 774.7 1195.7 774.7 C1196.9 774.7 1198.7 770.0 1199.9 767.6 C1201.7 763.9 1203.4 753.3 1205.2 746.1 C1207.0 739.0 1208.7 731.8 1210.6 724.7 C1212.3 718.1 1213.8 711.4 1215.9 705.0 C1217.5 700.2 1219.2 695.3 1221.3 690.7 C1223.1 686.7 1224.9 682.6 1227.5 679.1 C1229.3 676.7 1231.3 674.0 1233.8 672.5 C1235.6 671.4 1237.9 670.3 1240.0 670.2 C1242.4 670.1 1244.7 672.0 1247.2 672.5 C1249.8 673.0 1253.0 671.8 1255.2 672.9 C1257.6 674.1 1258.9 679.8 1260.6 679.7 C1262.2 679.6 1263.3 674.8 1265.1 672.9 C1267.5 670.4 1271.1 666.8 1274.0 667.2 C1276.1 667.5 1278.3 671.4 1280.3 671.5 C1283.1 671.7 1285.7 667.1 1288.3 664.8 C1291.4 662.0 1294.0 658.6 1297.2 655.9 C1300.6 653.0 1304.2 647.6 1307.9 647.9 C1310.6 648.1 1313.9 650.9 1316.0 653.2 C1318.7 656.0 1320.1 660.2 1321.4 663.9 C1323.4 669.5 1323.3 677.0 1324.0 683.6 C1324.8 690.7 1324.3 703.1 1325.8 705.0 C1326.8 706.3 1328.3 708.4 1329.4 708.6 C1331.1 708.9 1332.7 702.3 1333.9 702.4 C1335.2 702.5 1335.8 707.7 1336.5 710.4 C1337.6 714.5 1337.8 724.6 1339.2 728.3 C1340.2 730.7 1341.0 733.5 1342.8 735.4 C1344.2 736.9 1346.7 737.5 1348.1 739.0 C1350.2 741.2 1350.4 746.2 1351.7 749.7 C1353.0 753.3 1354.3 761.0 1355.8 760.4 C1356.8 760.0 1358.1 755.7 1358.9 753.3 C1360.2 749.7 1360.5 737.8 1361.2 730.0 C1362.1 719.3 1362.1 708.6 1363.3 697.9 C1364.2 689.5 1365.1 679.7 1366.9 672.9 C1368.1 668.4 1369.0 663.0 1371.4 659.5 C1373.0 657.1 1375.1 654.6 1377.6 653.2 C1379.5 652.2 1381.8 651.7 1383.9 651.4 C1386.2 651.1 1389.3 650.8 1391.0 651.8 C1393.6 653.2 1393.2 658.8 1394.6 662.2 C1395.9 665.5 1397.3 671.1 1399.1 672.0 C1400.3 672.6 1402.3 672.3 1403.5 672.9 C1405.3 673.8 1406.7 685.4 1408.0 685.4 C1409.4 685.4 1409.8 675.8 1411.6 672.0 C1412.8 669.5 1414.5 667.2 1416.0 664.8 C1417.5 662.4 1418.7 659.9 1420.5 657.7 C1422.1 655.7 1423.7 653.0 1425.9 652.3 C1427.7 651.8 1430.3 652.2 1432.1 652.9 C1434.6 653.9 1436.3 656.6 1438.4 658.6 C1440.5 660.6 1443.0 664.9 1444.6 664.8 C1446.5 664.6 1446.4 656.5 1448.2 655.0 C1449.4 654.0 1451.2 653.5 1452.7 652.9 C1454.1 652.3 1457.1 651.4 1457.1 651.4"/>
<path class="curve" stroke="#5c5cb7" d="M108.3 854.4 C108.3 854.4 111.4 853.0 113.0 852.4 C115.4 851.5 145.5 853.2 152.0 852.4 C156.3 851.9 160.7 850.8 165.0 850.3 C171.5 849.5 189.7 849.3 201.4 850.3 C209.2 851.0 217.0 852.3 224.7 853.7 C231.7 855.0 238.6 856.6 245.5 858.1 C250.7 859.2 255.8 861.0 261.1 861.5 C265.4 861.9 269.8 862.0 274.1 861.5 C278.5 860.9 282.8 859.3 287.1 858.1 C292.3 856.7 297.5 854.8 302.7 853.7 C306.1 852.9 309.6 852.2 313.1 851.8 C318.3 851.2 329.7 849.8 333.9 851.8 C336.7 853.1 339.3 855.5 341.7 857.6 C344.0 859.6 346.6 864.1 348.2 864.1 C350.3 864.1 349.4 853.7 351.6 852.4 C353.1 851.5 355.6 850.6 357.3 851.1 C358.8 851.5 359.9 854.0 361.2 854.4 C363.1 855.0 365.9 847.7 369.0 845.9 C373.6 843.2 383.1 844.3 388.5 845.9 C392.1 847.0 395.9 848.8 398.9 851.1 C402.0 853.5 404.0 857.3 406.7 860.2 C409.2 862.9 412.7 866.4 414.5 868.0 C415.7 869.1 417.2 870.8 418.3 871.1 C419.9 871.5 420.4 863.5 422.2 860.2 C423.7 857.4 425.9 852.4 428.0 852.4 C429.8 852.4 432.0 856.4 433.9 858.1 C435.2 859.3 436.7 861.0 437.8 861.5 C439.4 862.3 439.6 846.0 441.0 842.0 C441.9 839.3 442.4 836.1 444.3 834.2 C445.6 832.8 447.6 831.8 449.5 831.1 C451.5 830.4 453.9 830.2 456.0 830.3 C458.6 830.4 461.2 832.0 463.8 832.1 C467.7 832.3 472.9 828.9 476.8 829.0 C479.4 829.0 482.0 830.3 484.6 830.3 C487.2 830.3 489.8 829.4 492.4 829.0 C496.3 828.5 532.0 828.4 534.0 829.0 C535.3 829.4 536.6 830.2 537.9 830.3 C539.8 830.5 543.8 826.3 547.0 825.1 C551.8 823.3 561.7 825.0 567.8 824.3 C571.9 823.9 578.9 821.7 580.0 822.5 C580.7 823.0 581.2 824.2 582.0 824.6 C582.6 824.9 583.3 825.0 584.0 825.1 C585.0 825.2 587.6 823.8 589.5 823.3 C592.3 822.6 606.5 823.3 615.0 823.3 C623.1 823.3 635.9 824.2 639.2 823.3 C641.4 822.7 643.5 821.5 645.7 820.9 C649.0 820.0 661.9 821.1 670.0 821.2 C677.2 821.3 687.9 822.3 691.7 821.4 C694.2 820.8 696.6 819.6 699.1 819.0 C702.8 818.1 714.4 819.0 722.0 819.0 C729.7 819.0 742.2 817.6 745.1 819.0 C747.0 820.0 748.7 822.4 750.6 822.7 C752.9 823.0 755.5 819.6 758.0 819.6 C760.1 819.6 762.2 821.4 764.4 822.0 C767.6 822.9 784.5 820.5 787.4 821.4 C789.3 822.0 791.1 823.3 793.0 823.8 C795.9 824.6 804.0 823.8 806.0 823.6 C807.3 823.5 808.7 823.2 810.0 823.1 C812.0 822.9 815.6 821.9 818.0 822.5 C820.7 823.2 823.1 825.5 825.2 827.5 C827.3 829.5 828.7 832.3 830.5 834.7 C831.7 836.4 832.6 839.1 834.1 839.7 C836.0 840.4 839.1 837.9 841.3 836.5 C844.0 834.8 845.6 831.4 848.4 830.2 C850.8 829.2 853.8 829.3 856.5 829.3 C860.5 829.4 865.0 830.7 869.0 832.0 C873.3 833.4 877.3 835.7 881.5 837.4 C884.5 838.6 887.8 839.2 890.4 840.9 C892.4 842.2 894.2 844.9 895.8 845.8 C896.9 846.4 898.1 847.0 899.3 847.2 C901.0 847.5 904.5 844.0 907.4 843.3 C909.9 842.6 913.1 841.9 915.4 842.7 C917.5 843.4 919.1 845.6 920.8 847.2 C922.8 849.1 924.3 853.6 926.1 853.5 C927.3 853.4 928.9 850.9 930.1 851.1 C931.4 851.3 932.4 854.6 933.3 855.2 C934.6 856.1 934.3 842.6 936.0 840.1 C937.1 838.4 938.7 836.3 940.4 835.6 C942.6 834.6 945.9 835.9 948.5 836.5 C952.4 837.4 956.3 839.8 960.1 841.8 C963.8 843.7 967.6 845.6 970.8 848.1 C974.1 850.6 976.7 854.0 979.7 857.0 C982.4 859.7 985.0 865.1 987.8 865.1 C989.7 865.1 991.9 863.1 994.0 862.4 C997.2 861.4 1011.4 863.4 1015.5 862.4 C1018.2 861.8 1021.2 860.9 1023.5 859.7 C1025.1 858.9 1026.5 857.0 1028.0 857.0 C1029.4 857.0 1031.1 859.2 1032.4 859.3 C1034.3 859.4 1036.0 853.6 1037.8 850.8 C1039.3 848.4 1040.4 845.7 1042.3 843.6 C1044.3 841.5 1046.8 839.5 1049.4 838.3 C1052.1 837.1 1055.4 836.5 1058.4 836.5 C1060.8 836.5 1063.6 836.4 1065.5 837.4 C1068.1 838.8 1069.3 845.8 1070.9 845.4 C1072.2 845.1 1072.7 839.8 1074.4 838.3 C1077.0 836.0 1083.4 839.1 1086.9 837.4 C1089.3 836.2 1090.9 832.2 1093.2 832.0 C1095.1 831.8 1097.5 833.5 1099.4 834.7 C1100.7 835.5 1101.9 836.4 1103.0 837.4 C1104.6 838.9 1105.6 842.6 1107.5 843.3 C1109.6 844.1 1112.8 841.2 1115.5 840.9 C1119.6 840.4 1123.9 843.1 1128.0 842.7 C1131.6 842.4 1137.7 839.7 1138.5 839.4 C1139.0 839.2 1139.5 838.9 1140.0 838.8 C1140.8 838.6 1144.9 840.3 1147.1 841.5 C1149.8 843.0 1152.3 845.3 1154.3 847.7 C1156.8 850.8 1157.8 854.9 1159.7 858.5 C1161.0 860.9 1162.4 865.6 1163.6 865.6 C1164.8 865.6 1165.7 860.3 1166.8 857.6 C1168.1 854.5 1168.9 848.2 1170.7 848.3 C1172.1 848.4 1174.2 852.0 1175.7 854.0 C1177.9 857.0 1179.1 861.0 1181.1 863.8 C1182.5 865.7 1184.3 869.1 1185.6 869.2 C1187.4 869.4 1188.4 863.7 1190.0 861.1 C1192.0 857.8 1194.9 854.8 1196.3 851.3 C1197.6 848.2 1197.9 844.8 1198.6 841.5 C1199.4 837.4 1199.1 832.4 1200.7 829.0 C1201.8 826.7 1203.1 823.5 1205.2 822.7 C1206.9 822.0 1209.5 822.8 1211.5 823.3 C1213.6 823.8 1216.1 826.3 1217.7 825.8 C1219.5 825.3 1219.4 820.0 1221.3 819.2 C1222.9 818.5 1225.7 820.4 1227.5 820.0 C1230.2 819.4 1232.2 812.2 1234.7 812.5 C1236.4 812.7 1238.4 815.0 1240.0 816.5 C1241.7 818.2 1242.8 821.8 1244.5 822.2 C1246.6 822.7 1249.2 816.5 1251.7 816.5 C1253.7 816.5 1255.9 818.8 1257.9 820.0 C1259.4 820.9 1260.9 822.6 1262.4 822.7 C1264.2 822.8 1265.8 819.4 1267.7 819.2 C1269.7 819.0 1272.0 820.7 1274.0 821.8 C1276.5 823.2 1278.9 824.9 1281.1 826.8 C1283.4 828.8 1285.6 831.7 1287.4 833.5 C1288.6 834.7 1289.7 836.8 1291.0 837.0 C1292.3 837.2 1294.0 834.7 1295.4 834.7 C1297.3 834.7 1299.0 837.4 1300.8 838.8 C1303.3 840.8 1305.7 842.9 1308.0 845.1 C1311.1 848.0 1314.5 850.6 1316.9 854.0 C1319.3 857.4 1320.3 861.8 1322.2 865.6 C1323.9 868.9 1325.3 875.3 1327.6 875.4 C1329.1 875.4 1331.3 872.7 1333.0 872.8 C1334.9 872.9 1336.4 875.8 1338.3 876.9 C1340.0 877.9 1341.8 878.8 1343.7 879.4 C1346.5 880.3 1352.0 881.6 1354.4 880.8 C1356.0 880.3 1357.6 879.2 1358.9 878.1 C1360.8 876.5 1363.1 869.2 1365.1 864.7 C1367.7 858.8 1369.8 852.8 1372.3 846.9 C1374.6 841.5 1377.0 834.6 1379.4 830.8 C1381.0 828.3 1383.3 826.2 1384.8 823.6 C1387.0 819.8 1388.0 813.0 1389.2 811.1 C1390.0 809.8 1391.1 807.7 1391.9 807.5 C1393.0 807.1 1393.9 812.3 1394.6 814.7 C1395.6 818.4 1395.6 825.4 1396.4 829.0 C1396.9 831.4 1397.6 835.5 1398.2 836.1 C1399.1 837.1 1399.5 822.9 1400.9 823.6 C1401.8 824.1 1403.4 827.1 1404.4 829.0 C1405.9 831.8 1406.5 848.1 1408.0 846.9 C1409.0 846.1 1410.4 839.7 1411.6 836.1 C1413.4 830.7 1415.1 825.4 1416.9 820.0 C1418.7 814.7 1420.7 809.4 1422.3 804.0 C1424.5 796.4 1425.6 788.4 1427.7 780.7 C1429.3 774.7 1431.0 767.5 1433.0 762.9 C1434.3 759.8 1436.2 753.2 1437.5 753.9 C1438.4 754.3 1439.4 756.9 1440.2 758.4 C1441.3 760.7 1441.6 773.3 1442.3 780.7 C1443.1 789.1 1443.8 805.8 1444.6 805.8 C1445.4 805.8 1446.1 789.0 1447.3 780.7 C1448.3 774.1 1449.4 767.0 1450.9 761.1 C1451.9 757.2 1453.0 753.2 1454.5 749.5 C1455.5 747.0 1458.0 742.3 1458.0 742.3"/>
</g>
</g>
<g class="vlines" filter="url(#softv)" style="mix-blend-mode:multiply">
<line class="vl" x1="349.4" y1="11.8" x2="349.4" y2="883" stroke="#42ace3" stroke-width="4.4" stroke-dasharray="6 6.6"/>
<line class="vl" x1="455" y1="11.8" x2="455" y2="883" stroke="#ff6262" stroke-width="4.6" stroke-dasharray="6.2 6.4"/>
<line class="vl" x1="893.1" y1="10.9" x2="893.1" y2="883" stroke="#ff6262" stroke-width="3.3" stroke-dasharray="6.2 6.4"/>
<line class="vl" x1="927.0" y1="16.5" x2="927.0" y2="883" stroke="#42ace3" stroke-width="4.6" stroke-dasharray="5.6 7"/>
<line class="vl" x1="934.6" y1="12.5" x2="934.6" y2="883" stroke="#42ace3" stroke-width="3.1" stroke-dasharray="6.4 6.2"/>
<line class="vl" x1="948.8" y1="13.9" x2="948.8" y2="883" stroke="#ff6262" stroke-width="3.3" stroke-dasharray="6.2 6.4"/>
<line class="vl" x1="1022.3" y1="11.6" x2="1022.3" y2="883" stroke="#ff6262" stroke-width="3.3" stroke-dasharray="6.2 6.4"/>
<line class="vl" x1="1071.2" y1="14.9" x2="1071.2" y2="883" stroke="#42ace3" stroke-width="4.8" stroke-dasharray="5.6 7"/>
<line class="vl" x1="1139.3" y1="11.6" x2="1139.3" y2="883" stroke="#ff6262" stroke-width="4.2" stroke-dasharray="6.4 6.2"/>
<line class="vl" x1="1185.6" y1="13.2" x2="1185.6" y2="883" stroke="#42ace3" stroke-width="4.2" stroke-dasharray="6 6.6"/>
<line class="vl" x1="1198.6" y1="13.2" x2="1198.6" y2="883" stroke="#ff6262" stroke-width="4.0" stroke-dasharray="6.4 6.2"/>
<line class="vl" x1="1324.5" y1="11.6" x2="1324.5" y2="883" stroke="#42ace3" stroke-width="5.0" stroke-dasharray="5.6 7"/>
<line class="vl" x1="1356.6" y1="12.5" x2="1356.6" y2="883" stroke="#42ace3" stroke-width="3.4" stroke-dasharray="6.8 5.8"/>
<line class="vl" x1="1399.9" y1="14.9" x2="1399.9" y2="883" stroke="#42ace3" stroke-width="4.3" stroke-dasharray="6.4 6.2"/>
<line class="vl" x1="1408.8" y1="14.9" x2="1408.8" y2="883" stroke="#42ace3" stroke-width="4.3" stroke-dasharray="6.4 6.2"/>
<line class="vl" x1="1419.7" y1="12.5" x2="1419.7" y2="883" stroke="#ff6262" stroke-width="4.7" stroke-dasharray="6 6.6"/>
<line class="vl" x1="1446.4" y1="11.6" x2="1446.4" y2="883" stroke="#42ace3" stroke-width="3.3" stroke-dasharray="6.4 6.2"/>
</g>
<g filter="url(#soft3)">
<g class="ticklabels">
<text class="tick" font-size="41.3" transform="translate(69.74 933.8) scale(0.9470 1)">4000</text>
<text class="tick" font-size="41.3" transform="translate(189.44 933.8) scale(0.9470 1)">3600</text>
<text class="tick" font-size="41.3" transform="translate(299.84 933.8) scale(0.9470 1)">3200</text>
<text class="tick" font-size="41.3" transform="translate(412.54 933.8) scale(0.9470 1)">2800</text>
<text class="tick" font-size="41.3" transform="translate(525.74 933.8) scale(0.9470 1)">2400</text>
<text class="tick" font-size="41.3" transform="translate(639.84 933.8) scale(0.9470 1)">2000</text>
<text class="tick" font-size="41.3" transform="translate(748.84 933.8) scale(0.9470 1)">1800</text>
<text class="tick" font-size="41.3" transform="translate(862.04 933.8) scale(0.9470 1)">1600</text>
<text class="tick" font-size="41.3" transform="translate(971.64 933.8) scale(0.9470 1)">1400</text>
<text class="tick" font-size="41.3" transform="translate(1079.54 933.8) scale(0.9470 1)">1200</text>
<text class="tick" font-size="41.3" transform="translate(1190.04 933.8) scale(0.9470 1)">1000</text>
<text class="tick" font-size="41.3" transform="translate(1299.45 933.8) scale(0.9470 1)">800</text>
<text class="tick" font-size="41.3" transform="translate(1396.95 933.8) scale(0.9470 1)">650</text>
</g>
<g class="xlabel">
<text class="axl" transform="translate(0 1002.6) scale(0.9450 1)" xml:space="preserve"><tspan x="662.02" font-size="40.6">Wavenumber,</tspan> <tspan x="930.76" font-size="40.6">cm</tspan><tspan x="987.21" dy="-12.6" font-size="25.5">-1</tspan></text>
</g>
<g class="ylabel">
<text class="axl" font-size="46.8" transform="translate(48.1 0) rotate(-90) scale(0.8800 1)" xml:space="preserve"><tspan x="-695.96">%</tspan> <tspan x="-640.60">Transmittance</tspan></text>
</g>
</g>
<g class="legend" filter="url(#soft2)">
<text class="leg" transform="translate(0 64.2) scale(0.9600 1)" xml:space="preserve"><tspan x="1553.20" font-size="50.8">Neat</tspan> <tspan x="1674.14" font-size="50.8">Rnew</tspan></text>
<text class="leg" transform="translate(0 210.3) scale(0.9600 1)" xml:space="preserve"><tspan x="1553.20" font-size="50.8">Rnew</tspan> <tspan x="1697.30" font-size="50.8">-</tspan> <tspan x="1731.61" font-size="50.8">1%</tspan> <tspan x="1817.49" font-size="50.8">IL2</tspan></text>
<text class="leg" transform="translate(0 355.8) scale(0.9600 1)" xml:space="preserve"><tspan x="1553.20" font-size="50.8">Rnew</tspan> <tspan x="1697.30" font-size="50.8">-</tspan> <tspan x="1730.68" font-size="50.8">5%</tspan> <tspan x="1817.49" font-size="50.8">IL2</tspan></text>
<text class="leg" transform="translate(0 464.0) scale(0.9600 1)" xml:space="preserve"><tspan x="1553.20" font-size="50.8">Rnew</tspan> <tspan x="1697.30" font-size="50.8">-</tspan> <tspan x="1732.13" font-size="50.8">10%</tspan> <tspan x="1845.93" font-size="50.8">IL2</tspan></text>
<text class="leg" transform="translate(0 680.6) scale(0.9600 1)" xml:space="preserve"><tspan x="1553.20" font-size="50.8">Rnew</tspan> <tspan x="1697.30" font-size="50.8">-</tspan> <tspan x="1728.29" font-size="50.8">20%</tspan> <tspan x="1845.93" font-size="50.8">IL2</tspan></text>
<text class="leg" transform="translate(0 896.5) scale(0.9600 1)" xml:space="preserve"><tspan x="1553.20" font-size="50.8">Neat</tspan> <tspan x="1673.63" font-size="50.8">IL2</tspan></text>
</g>
<g class="caption" filter="url(#soft2)">
<text class="cap2" transform="translate(0 1103.1) scale(0.885 1)"><tspan x="1033.76" font-size="50.7">(</tspan><tspan x="1052.42" font-size="52.4" font-weight="bold">B</tspan><tspan x="1088.41" font-size="50.7">)</tspan></text>
</g>
</svg>
</body>
</html>
